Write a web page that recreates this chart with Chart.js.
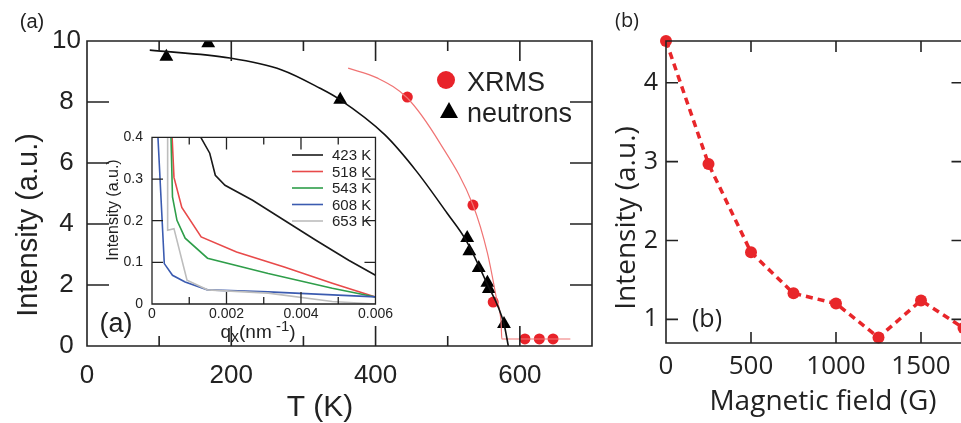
<!DOCTYPE html>
<html lang="en">
<head>
<meta charset="UTF-8">
<title>Magnetic scattering intensity vs temperature and field</title>
<script src="https://cdn.jsdelivr.net/npm/chart.js"></script>
<style>
    body {
        margin: 0;
        background: #fff;
        width: 961px;
        height: 423px;
        overflow: hidden;
        position: relative;
    }
    canvas { position: absolute; }
</style>
</head>
<body>

<canvas id="tempChart" width="610" height="423" style="left:0px;top:0px"></canvas>
<canvas id="insetChart" width="300" height="225" style="left:95px;top:120px"></canvas>
<canvas id="fieldChart" width="380" height="423" style="left:605px;top:0px"></canvas>

<script>
    // ---------- panel (a): intensity vs temperature ----------
    const neutronT = [110, 168, 351, 527, 530, 543, 555, 557, 578];
    const neutronI = [9.48, 9.93, 8.07, 3.54, 3.11, 2.56, 2.07, 1.87, 0.72];
    const xrmsT = [444, 535, 563, 607, 627, 646];
    const xrmsI = [8.16, 4.62, 1.44, 0.23, 0.23, 0.23];
    // fit curves
    const neutronFitT = [87, 198, 270, 323, 349, 413, 456, 499, 525, 554, 578, 584];
    const neutronFitI = [9.70, 9.44, 9.05, 8.45, 8.10, 6.92, 5.75, 4.36, 3.48, 2.07, 0.72, 0];
    const xrmsFitT = [362, 402, 444, 489, 535, 555, 568, 574, 575, 670];
    const xrmsFitI = [9.11, 8.79, 8.13, 6.66, 4.62, 3.05, 1.51, 0.75, 0.23, 0.23];
    const seriesNames = ['XRMS', 'neutrons'];
    const tTicks = [0, 200, 400, 600];
    const tMinorTicks = [100, 300, 500];
    const intensityTicks = [0, 2, 4, 6, 8, 10];

    // ---------- inset: line scans at several temperatures ----------
    const insetLabels = ['423 K', '518 K', '543 K', '608 K', '653 K'];
    const insetColors = ['#1a1a1a', '#e84a4a', '#2f9e4a', '#3b5bb0', '#bdbdbd'];
    const q423 = [0.00131, 0.00155, 0.00170, 0.00196, 0.00270, 0.00355, 0.00440, 0.00528, 0.0060];
    const i423 = [0.400, 0.362, 0.309, 0.285, 0.249, 0.201, 0.153, 0.105, 0.069];
    const q518 = [0.00054, 0.00059, 0.00080, 0.00132, 0.00227, 0.00355, 0.00484, 0.0060];
    const i518 = [0.400, 0.304, 0.232, 0.161, 0.125, 0.089, 0.050, 0.017];
    const q543 = [0.00051, 0.00055, 0.00067, 0.00089, 0.00149, 0.00312, 0.00484, 0.0060];
    const i543 = [0.400, 0.257, 0.201, 0.158, 0.110, 0.073, 0.038, 0.017];
    const q608 = [0.00016, 0.00033, 0.00055, 0.00089, 0.00149, 0.00312, 0.0060];
    const i608 = [0.400, 0.097, 0.069, 0.053, 0.034, 0.029, 0.017];
    const q653 = [0.00042, 0.00042, 0.00059, 0.00094, 0.00149, 0.00312, 0.00484, 0.0060];
    const i653 = [0.400, 0.177, 0.181, 0.057, 0.034, 0.026, 0.006, 0.000];
    const qTicks = [0, 0.002, 0.004, 0.006];
    const qMinorTicks = [0.001, 0.003, 0.005];
    const insetYTicks = [0, 0.1, 0.2, 0.3, 0.4];

    // ---------- panel (b): intensity vs magnetic field ----------
    const fieldG = [0, 250, 500, 750, 1000, 1250, 1500, 1750];
    const fieldI = [4.53, 2.97, 1.85, 1.33, 1.20, 0.77, 1.24, 0.89];
    const fieldTicks = [0, 500, 1000, 1500];
    const fieldYTicks = [1, 2, 3, 4];

    const SANS = '"Liberation Sans", Arial, sans-serif';
    const OPEN = '"Open Sans", sans-serif';
    const INK = '#222';

    const pts = (xs, ys) => xs.map((v, i) => ({x: v, y: ys[i]}));
    const fixTicks = list => function (s) { s.ticks = list.map(v => ({value: v})); };

    // box around the plot with inward tick marks on all sides
    const framePlugin = {
        id: 'frame',
        beforeDraw(chart, args, o) {
            if (!o.fill) return;
            const a = chart.chartArea;
            chart.ctx.save();
            chart.ctx.fillStyle = o.fill;
            chart.ctx.fillRect(a.left, a.top, a.right - a.left, a.bottom - a.top);
            chart.ctx.restore();
        },
        afterDatasetsDraw(chart, args, o) {
            const {ctx, chartArea: a, scales} = chart;
            ctx.save();
            ctx.strokeStyle = o.color || INK;
            ctx.lineWidth = o.lineWidth || 1.5;
            ctx.beginPath();
            ctx.rect(a.left, a.top, a.right - a.left, a.bottom - a.top);
            const xt = (list, len) => list.forEach(v => {
                const p = scales.x.getPixelForValue(v);
                ctx.moveTo(p, a.bottom); ctx.lineTo(p, a.bottom - len);
                ctx.moveTo(p, a.top); ctx.lineTo(p, a.top + len);
            });
            const yt = (list, len) => list.forEach(v => {
                const p = scales.y.getPixelForValue(v);
                ctx.moveTo(a.left, p); ctx.lineTo(a.left + len, p);
                ctx.moveTo(a.right, p); ctx.lineTo(a.right - len, p);
            });
            xt(o.xMajor || [], o.xLen[0]);
            xt(o.xMinor || [], o.xLen[1]);
            yt(o.yMajor || [], o.yLen[0]);
            ctx.stroke();
            ctx.restore();
        }
    };

    // free text (titles, panel letters) and hand-made legends
    const textPlugin = {
        id: 'texts',
        afterDraw(chart, args, o) {
            const ctx = chart.ctx;
            (o.items || []).forEach(t => {
                ctx.save();
                ctx.translate(t.x, t.y);
                if (t.rotate) ctx.rotate(t.rotate);
                ctx.fillStyle = t.color || INK;
                ctx.textBaseline = 'alphabetic';
                // a label may be made of parts (sub/superscripts)
                const parts = t.parts || [{t: t.text, size: t.size, dy: 0}];
                const fam = t.family || SANS;
                let total = 0;
                parts.forEach(p => { ctx.font = p.size + 'px ' + fam; p.w = ctx.measureText(p.t).width; total += p.w; });
                let x = t.align === 'left' ? 0 : -total / 2;
                const base = t.size * 0.36;
                parts.forEach(p => {
                    ctx.font = p.size + 'px ' + fam;
                    ctx.textAlign = 'left';
                    ctx.fillText(p.t, x, base + (p.dy || 0));
                    x += p.w;
                });
                ctx.restore();
            });
            (o.marks || []).forEach(m => {
                ctx.save();
                ctx.fillStyle = m.color;
                ctx.strokeStyle = m.color;
                ctx.beginPath();
                if (m.kind === 'circle') {
                    ctx.arc(m.x, m.y, m.r, 0, Math.PI * 2);
                    ctx.fill();
                } else if (m.kind === 'triangle') {
                    ctx.moveTo(m.x, m.y - m.r);
                    ctx.lineTo(m.x + m.r * 0.9, m.y + m.r * 0.6);
                    ctx.lineTo(m.x - m.r * 0.9, m.y + m.r * 0.6);
                    ctx.closePath();
                    ctx.fill();
                } else {
                    ctx.lineWidth = m.w;
                    ctx.moveTo(m.x, m.y);
                    ctx.lineTo(m.x + m.len, m.y);
                    ctx.stroke();
                }
                ctx.restore();
            });
        }
    };

    const baseOpts = {
        responsive: false,
        animation: false,
        events: [],
        plugins: {legend: {display: false}, tooltip: {enabled: false}}
    };

    // ---------- chart (a) ----------
    new Chart(document.getElementById('tempChart'), {
        type: 'scatter',
        data: {
            datasets: [
                {
                    data: pts(neutronFitT, neutronFitI), showLine: true, pointRadius: 0,
                    borderColor: '#111', borderWidth: 1.6, cubicInterpolationMode: 'monotone'
                },
                {
                    data: pts(xrmsFitT, xrmsFitI), showLine: true, pointRadius: 0,
                    borderColor: '#f07474', borderWidth: 1.2, cubicInterpolationMode: 'monotone'
                },
                {
                    label: seriesNames[1], data: pts(neutronT, neutronI), pointStyle: 'triangle',
                    pointRadius: 8, backgroundColor: '#000', borderColor: '#000', borderWidth: 0
                },
                {
                    label: seriesNames[0], data: pts(xrmsT, xrmsI), pointStyle: 'circle',
                    pointRadius: 5.5, backgroundColor: '#e8232a', borderColor: '#e8232a', borderWidth: 0
                }
            ]
        },
        options: {
            ...baseOpts,
            layout: {padding: {left: 0, top: 41, right: 18, bottom: 0}},
            scales: {
                x: {
                    type: 'linear', min: 0, max: 700,
                    afterFit(s) { s.height = 77; },
                    afterBuildTicks: fixTicks(tTicks),
                    grid: {display: false, drawTicks: false},
                    border: {display: false},
                    ticks: {font: {family: SANS, size: 26}, color: INK, padding: 14, callback: v => String(v)}
                },
                y: {
                    min: 0, max: 10,
                    afterFit(s) { s.width = 87; },
                    afterBuildTicks: fixTicks(intensityTicks),
                    grid: {display: false, drawTicks: false},
                    border: {display: false},
                    ticks: {font: {family: SANS, size: 26}, color: INK, padding: 6, crossAlign: 'center', callback: v => String(v)}
                }
            },
            plugins: {
                ...baseOpts.plugins,
                frame: {xMajor: tTicks, xMinor: tMinorTicks, xLen: [20, 10], yMajor: intensityTicks, yLen: [22, 11], lineWidth: 1.6},
                texts: {
                    items: [
                        {text: '(a)', x: 32, y: 21, size: 20},
                        {text: '(a)', x: 116, y: 322, size: 27},
                        {text: 'Intensity (a.u.)', x: 27, y: 225, rotate: -Math.PI / 2, size: 29},
                        {text: 'T (K)', x: 320, y: 405, size: 30},
                        {text: seriesNames[0], x: 467, y: 81, align: 'left', size: 27},
                        {text: seriesNames[1], x: 467, y: 112, align: 'left', size: 27}
                    ],
                    marks: [
                        {kind: 'circle', x: 446, y: 80, r: 9, color: '#e8232a'},
                        {kind: 'triangle', x: 449, y: 112, r: 10, color: '#000'}
                    ]
                }
            }
        },
        plugins: [framePlugin, textPlugin]
    });

    // ---------- inset ----------
    const insetQ = [q423, q518, q543, q608, q653];
    const insetI = [i423, i518, i543, i608, i653];
    new Chart(document.getElementById('insetChart'), {
        type: 'scatter',
        data: {
            datasets: insetLabels.map((name, k) => ({
                label: name,
                data: pts(insetQ[k], insetI[k]),
                showLine: true, pointRadius: 0, tension: 0,
                borderColor: insetColors[k], borderWidth: 1.6
            })).reverse()
        },
        options: {
            ...baseOpts,
            layout: {padding: {left: 0, top: 17, right: 10, bottom: 0}},
            scales: {
                x: {
                    type: 'linear', min: 0, max: 0.006,
                    afterFit(s) { s.height = 41; },
                    afterBuildTicks: fixTicks(qTicks),
                    grid: {display: false, drawTicks: false},
                    border: {display: false},
                    ticks: {font: {family: SANS, size: 14}, color: INK, padding: 2, callback: v => String(v)}
                },
                y: {
                    min: 0, max: 0.4,
                    afterFit(s) { s.width = 57; },
                    afterBuildTicks: fixTicks(insetYTicks),
                    grid: {display: false, drawTicks: false},
                    border: {display: false},
                    ticks: {font: {family: SANS, size: 14}, color: INK, padding: 9, callback: v => String(v)}
                }
            },
            plugins: {
                ...baseOpts.plugins,
                frame: {fill: '#fff', xMajor: qTicks, xMinor: qMinorTicks, xLen: [12, 7], yMajor: insetYTicks, yLen: [11, 6], lineWidth: 1.3},
                texts: {
                    items: [
                        {text: 'Intensity (a.u.)', x: 17, y: 90, rotate: -Math.PI / 2, size: 16},
                        {x: 163, y: 211, size: 19, parts: [
                            {t: 'q', size: 19}, {t: 'x', size: 16, dy: 4}, {t: '(nm', size: 19},
                            {t: ' -1', size: 15, dy: -7}, {t: ')', size: 19}
                        ]}
                    ].concat(insetLabels.map((name, k) => (
                        {text: name, x: 237, y: 35 + k * 16.5, align: 'left', size: 15}
                    ))),
                    marks: insetLabels.map((name, k) => (
                        {kind: 'line', x: 197, y: 35 + k * 16.5, len: 31, w: 1.6, color: insetColors[k]}
                    ))
                }
            }
        },
        plugins: [framePlugin, textPlugin]
    });

    // ---------- chart (b) ----------
    new Chart(document.getElementById('fieldChart'), {
        type: 'scatter',
        data: {
            datasets: [{
                data: pts(fieldG, fieldI),
                showLine: true, clip: false,
                borderColor: '#e8262a', borderWidth: 3.5, borderDash: [7, 5],
                pointRadius: 6, pointBackgroundColor: '#e8262a', pointBorderWidth: 0
            }]
        },
        options: {
            ...baseOpts,
            layout: {padding: {left: 0, top: 41, right: 21.5, bottom: 0}},
            scales: {
                x: {
                    type: 'linear', min: 0, max: 1750,
                    afterFit(s) { s.height = 80; },
                    afterBuildTicks: fixTicks(fieldTicks),
                    grid: {display: false, drawTicks: false},
                    border: {display: false},
                    ticks: {font: {family: OPEN, size: 26}, color: INK, padding: 8, callback: v => String(v)}
                },
                y: {
                    min: 0.7, max: 4.53,
                    afterFit(s) { s.width = 61; },
                    afterBuildTicks: fixTicks(fieldYTicks),
                    grid: {display: false, drawTicks: false},
                    border: {display: false},
                    ticks: {font: {family: OPEN, size: 25}, color: INK, padding: 8, callback: v => String(v)}
                }
            },
            plugins: {
                ...baseOpts.plugins,
                frame: {xMajor: fieldTicks.slice(1), xMinor: [], xLen: [11, 6], yMajor: fieldYTicks, yLen: [12, 6], lineWidth: 1.6},
                texts: {
                    items: [
                        {text: '(b)', x: 22, y: 20, size: 20, family: OPEN},
                        {text: '(b)', x: 102, y: 318, size: 25, family: OPEN},
                        {text: 'Intensity (a.u.)', x: 20, y: 218, rotate: -Math.PI / 2, size: 28, family: OPEN},
                        {text: 'Magnetic field (G)', x: 218, y: 400, size: 28, family: OPEN}
                    ]
                }
            }
        },
        plugins: [framePlugin, textPlugin]
    });
</script>

</body>
</html>
